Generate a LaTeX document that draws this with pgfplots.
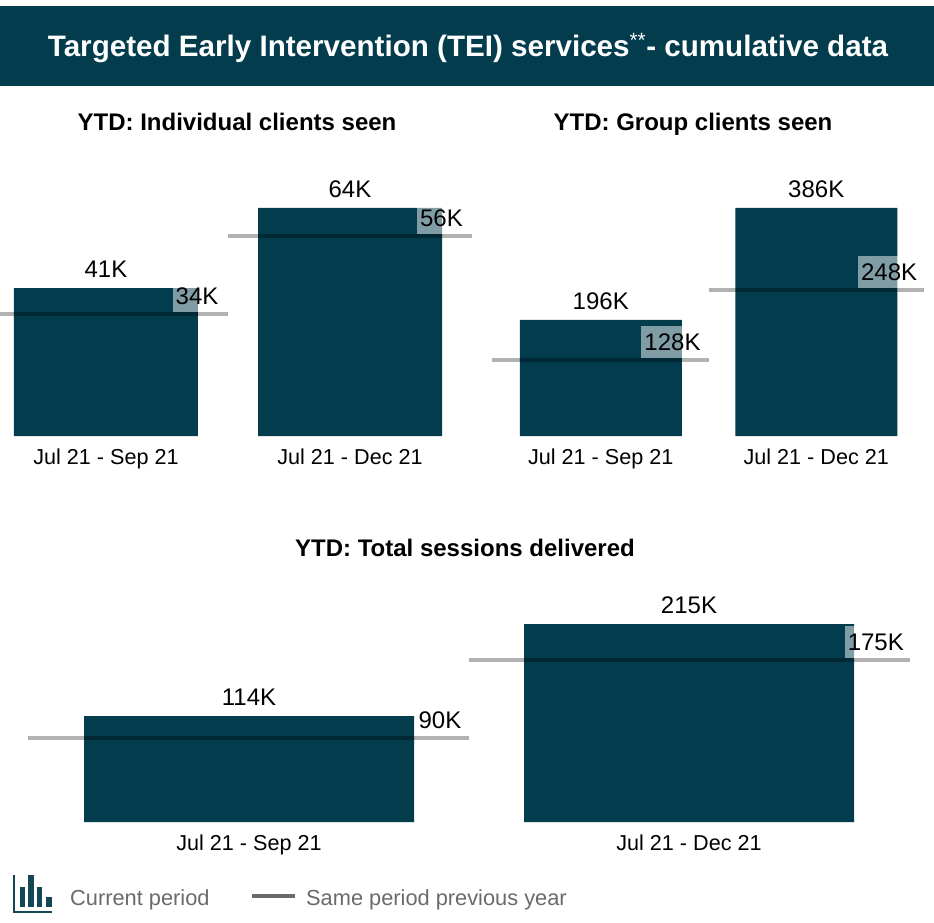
\documentclass[border=0pt]{standalone}
\usepackage{fontspec}
\setmainfont{Liberation Sans}
\usepackage{pgfplots}
\pgfplotsset{compat=1.18}
\definecolor{teal}{HTML}{023C4D}
\definecolor{leggray}{HTML}{6A6A6A}
\newcommand{\fs}[1]{\fontsize{#1}{#1}\selectfont}
\pgfplotsset{
  panel/.style={
    scale only axis, ymin=0, axis y line=none, axis x line*=bottom,
    axis line style={draw=none}, major tick length=0pt,
    xtick={0,1}, xticklabels={Jul 21 - Sep 21,Jul 21 - Dec 21},
    xticklabel style={font=\fs{21.6}, inner sep=0pt, text height=15.5pt, text depth=0pt, yshift=-13pt},
    enlargelimits=false, clip=true,
  },
  bar/.style={ybar, bar shift=0pt, draw=none, fill=teal,
    point meta=explicit symbolic, nodes near coords,
    every node near coord/.style={font=\fs{24}, text=black, anchor=south, inner ysep=10pt, inner xsep=0pt, text height=17.2pt, text depth=0pt}},
  prev/.style={no markers, draw=black, draw opacity=.3, line width=4pt, forget plot},
  prevlab/.style={only marks, mark=none, draw=none,
    point meta=explicit symbolic, nodes near coords,
    every node near coord/.style={font=\fs{24}, text=black, anchor=south, fill=white, fill opacity=.5, text opacity=1, yshift=2pt, inner ysep=7.4pt, inner xsep=3pt, text height=17.2pt, text depth=0pt}},
}
\begin{document}
\begin{tikzpicture}[x=1pt,y=1pt]
\path[use as bounding box] (0,0) rectangle (934,922);
\fill[teal] (0,836) rectangle (934,916);
\node[anchor=base,text=white,font=\bfseries\fs{29.6}] at (468,865) {Targeted Early Intervention (TEI) services\textsuperscript{\mdseries **}- cumulative data};
\node[anchor=base,font=\bfseries\fs{24}] at (237,791.5) {YTD: Individual clients seen};
\node[anchor=base,font=\bfseries\fs{24}] at (693,791.5) {YTD: Group clients seen};
\node[anchor=base,font=\bfseries\fs{24}] at (465,366) {YTD: Total sessions delivered};

% Individual clients: px 0..472, base 436
\begin{axis}[panel, at={(0pt,486pt)}, anchor=south west, width=472pt, height=276pt,
  xmin=-0.4344, xmax=1.5, ymax=77.47]
\addplot[bar, bar width=184pt] coordinates {(0,41.5)[41K] (1,64)[64K]};
\addplot[prev] coordinates {(-0.5,34.2)(0.5,34.2)};
\addplot[prev] coordinates {(0.5,56.1)(1.5,56.1)};
\addplot[prevlab] coordinates {(0.373,34.2)[34K] (1.375,56.1)[56K]};
\end{axis}

% Group clients: px 492..925, base 436
\begin{axis}[panel, at={(492pt,486pt)}, anchor=south west, width=432pt, height=276pt,
  xmin=-0.5046, xmax=1.5, ymax=467.2]
\addplot[bar, bar width=162pt] coordinates {(0,196.4)[196K] (1,386)[386K]};
\addplot[prev] coordinates {(-0.5046,128.7)(0.5,128.7)};
\addplot[prev] coordinates {(0.5,247.2)(1.5,247.2)};
\addplot[prevlab] coordinates {(0.333,128.7)[128K] (1.338,247.2)[248K]};
\end{axis}

% Total sessions: px 28..910, base 822
\begin{axis}[panel, at={(28pt,100pt)}, anchor=south west, width=882pt, height=276pt,
  xmin=-0.5023, xmax=1.5023, ymax=299.7]
\addplot[bar, bar width=330pt] coordinates {(0,115)[114K] (1,215)[215K]};
\addplot[prev] coordinates {(-0.5023,91.2)(0.5,91.2)};
\addplot[prev] coordinates {(0.5,175.9)(1.5023,175.9)};
\addplot[prevlab] coordinates {(0.434,91.2)[90K] (1.4245,175.9)[175K]};
\end{axis}

% Legend
\begin{scope}[teal!85!gray]
\draw[line width=2.5pt] (14,47) -- (14,10) -- (52,10);
\fill (20,15) rectangle (25,35);
\fill (28,15) rectangle (34,47);
\fill (37,15) rectangle (42,35);
\fill (46,15) rectangle (52,25);
\end{scope}
\node[anchor=west,inner sep=0pt,text=leggray,font=\fs{21.8}] at (70,22.5) {Current period};
\draw[leggray,line width=4.5pt] (252,26) -- (295,26);
\node[anchor=west,inner sep=0pt,text=leggray,font=\fs{21.8}] at (306,22.5) {Same period previous year};
\end{tikzpicture}
\end{document}
